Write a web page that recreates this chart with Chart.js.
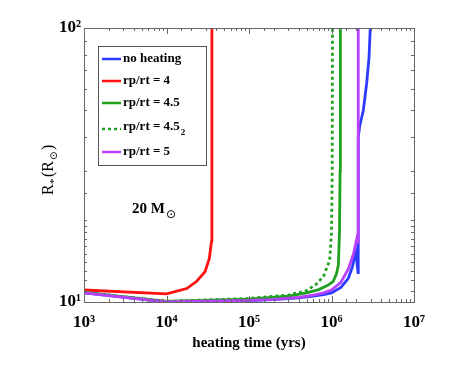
<!DOCTYPE html>
<html>
<head>
<meta charset="utf-8">
<script src="https://cdn.jsdelivr.net/npm/chart.js@4"></script>
<style>
  html, body { margin: 0; padding: 0; background: #fff; }
  #wrap { width: 457px; height: 374px; }
</style>
</head>
<body>
<div id="wrap"><canvas id="radius-chart" width="457" height="374"></canvas></div>
<script>
// heating time (yrs) and stellar radius (Rsun) for each run
var noHeatT = [1e3, 1e4, 3e4, 1e5, 2e5, 4e5, 6e5, 8e5, 1e6, 1.3e6, 1.6e6, 1.8e6, 1.96e6, 2.1e6, 2.11e6, 2.2e6, 2.43e6, 2.67e6, 2.85e6, 2.95e6, 3.0e6];
var noHeatR = [10.8, 10.0, 10.05, 10.12, 10.2, 10.35, 10.5, 10.65, 10.8, 11.3, 12.2, 13.5, 15.3, 12.8, 40, 44, 50, 63, 78, 100, 120];

var rp4T = [1e3, 1e4, 1.76e4, 2.32e4, 2.93e4, 3.3e4, 3.53e4, 3.55e4];
var rp4R = [11.06, 10.7, 11.2, 11.9, 12.9, 14.4, 16.8, 130];

var rp45T = [1e3, 1e4, 1e5, 3e5, 5e5, 7e5, 9e5, 1.05e6, 1.15e6, 1.21e6, 1.25e6, 1.27e6, 1.28e6];
var rp45R = [10.85, 10.06, 10.25, 10.5, 10.8, 11.1, 11.5, 11.9, 12.7, 13.6, 17.9, 30, 130];

var rp45bT = [1e3, 1e4, 1e5, 3e5, 5e5, 6.5e5, 8e5, 9.5e5, 1.0e6, 1.02e6, 1.03e6];
var rp45bR = [10.85, 10.06, 10.3, 10.6, 11.0, 11.6, 12.4, 14.2, 17.9, 30, 130];

var rp5T = [1e3, 1e4, 1e5, 2e5, 4e5, 6e5, 8e5, 1e6, 1.3e6, 1.6e6, 1.85e6, 2.05e6, 2.1e6, 2.11e6];
var rp5R = [10.8, 10.0, 10.13, 10.22, 10.4, 10.6, 10.8, 11.05, 11.8, 13.2, 15.0, 17.3, 16.5, 130];

var seriesLabels = ['no heating', 'rp/rt = 4', 'rp/rt = 4.5', 'rp/rt = 4.5', 'rp/rt = 5'];
var seriesColors = ['#2b3bff', '#ff1010', '#20a020', '#20a020', '#b840ff'];

var xTickExp = [3, 4, 5, 6, 7];
var yTickExp = [1, 2];

function pts(t, r) {
    return t.map(function (v, i) { return { x: v, y: r[i] }; });
}

var sup = { 1: '\u00b9', 2: '\u00b2', 3: '\u00b3', 4: '\u2074', 5: '\u2075', 6: '\u2076', 7: '\u2077' };
function powLabel(exps) {
    return function (value) {
        var e = Math.log10(value);
        var r = Math.round(e);
        if (Math.abs(e - r) < 1e-6 && exps.indexOf(r) >= 0) return '10' + sup[r];
        return '';
    };
}

var serif = 'Liberation Serif';

// frame, inward ticks, legend and labels in matlab style
var framePlugin = {
    id: 'frame',
    afterDraw: function (chart) {
        var ctx = chart.ctx;
        var a = chart.chartArea;
        ctx.save();
        ctx.strokeStyle = '#666';
        ctx.lineWidth = 1;
        ctx.strokeRect(a.left + 0.5, a.top + 0.5, a.right - a.left, a.bottom - a.top);

        function isMajor(v) {
            var e = Math.log10(v);
            return Math.abs(e - Math.round(e)) < 1e-6;
        }
        ctx.beginPath();
        chart.scales.x.ticks.forEach(function (t) {
            var px = Math.round(chart.scales.x.getPixelForValue(t.value)) + 0.5;
            var len = isMajor(t.value) ? 6 : 3;
            ctx.moveTo(px, a.bottom); ctx.lineTo(px, a.bottom - len);
            ctx.moveTo(px, a.top); ctx.lineTo(px, a.top + len);
        });
        chart.scales.y.ticks.forEach(function (t) {
            var py = Math.round(chart.scales.y.getPixelForValue(t.value)) + 0.5;
            var len = isMajor(t.value) ? 6 : 3;
            ctx.moveTo(a.left, py); ctx.lineTo(a.left + len, py);
            ctx.moveTo(a.right, py); ctx.lineTo(a.right - len, py);
        });
        ctx.stroke();

        // legend box
        var lx = 98, ly = 46, lw = 108, lh = 119;
        ctx.fillStyle = '#fff';
        ctx.fillRect(lx, ly, lw, lh);
        ctx.strokeStyle = '#555';
        ctx.strokeRect(lx + 0.5, ly + 0.5, lw, lh);
        var rows = [59, 81, 103, 127, 152];
        ctx.font = 'bold 13px "' + serif + '"';
        ctx.textBaseline = 'middle';
        chart.data.datasets.forEach(function (ds, i) {
            var y = rows[i];
            ctx.beginPath();
            ctx.strokeStyle = ds.borderColor;
            ctx.lineWidth = 2.5;
            ctx.setLineDash(ds.borderDash || []);
            ctx.moveTo(102, i === 3 ? y + 2 : y);
            ctx.lineTo(121, i === 3 ? y + 2 : y);
            ctx.stroke();
            ctx.setLineDash([]);
            ctx.fillStyle = '#000';
            ctx.fillText(ds.label, 123, y);
            if (i === 3) {
                var w = ctx.measureText(ds.label).width;
                ctx.font = 'bold 9px "' + serif + '"';
                ctx.fillText('2', 123 + w + 1, y + 6);
                ctx.font = 'bold 13px "' + serif + '"';
            }
        });

        // mass annotation
        ctx.fillStyle = '#000';
        ctx.font = 'bold 15px "' + serif + '"';
        ctx.textBaseline = 'alphabetic';
        ctx.fillText('20 M', 132, 213);
        var mw = ctx.measureText('20 M').width;
        ctx.font = '12px "DejaVu Sans"';
        ctx.fillText('\u2299', 132 + mw + 1, 218);

        // y axis title
        ctx.translate(53, 165);
        ctx.rotate(-Math.PI / 2);
        ctx.font = '16px "' + serif + '"';
        ctx.textBaseline = 'alphabetic';
        ctx.fillText('R', -30, 0);
        ctx.font = '11px "' + serif + '"';
        ctx.fillText('*', -19, 4);
        ctx.font = '16px "' + serif + '"';
        ctx.fillText('(R', -12, 0);
        ctx.font = '10px "DejaVu Sans"';
        ctx.fillText('\u2299', 5, 4);
        ctx.font = '16px "' + serif + '"';
        ctx.fillText(')', 15, 0);
        ctx.restore();
    }
};

var chartCtx = document.getElementById('radius-chart').getContext('2d');
var radiusChart = new Chart(chartCtx, {
    type: 'scatter',
    data: {
        datasets: [
            { label: seriesLabels[0], data: pts(noHeatT, noHeatR), borderColor: seriesColors[0], order: 4 },
            { label: seriesLabels[1], data: pts(rp4T, rp4R), borderColor: seriesColors[1], order: 3 },
            { label: seriesLabels[2], data: pts(rp45T, rp45R), borderColor: seriesColors[2], order: 2 },
            { label: seriesLabels[3], data: pts(rp45bT, rp45bR), borderColor: seriesColors[3], borderDash: [3, 3], order: 1 },
            { label: seriesLabels[4], data: pts(rp5T, rp5R), borderColor: seriesColors[4], order: 0 }
        ].map(function (d) {
            d.showLine = true;
            d.pointRadius = 0;
            d.borderWidth = 2.8;
            d.fill = false;
            d.backgroundColor = d.borderColor;
            return d;
        })
    },
    options: {
        responsive: false,
        animation: false,
        layout: { padding: { top: 28, right: 43, bottom: 22, left: 0 } },
        plugins: {
            legend: { display: false },
            tooltip: { enabled: false }
        },
        scales: {
            x: {
                type: 'logarithmic',
                min: 1e3,
                max: 1e7,
                afterFit: function (s) { s.height = 50; },
                grid: { display: false },
                border: { display: false },
                ticks: {
                    autoSkip: false,
                    maxRotation: 0,
                    padding: 2,
                    color: '#000',
                    font: { family: serif, size: 17, weight: 'bold' },
                    callback: powLabel(xTickExp)
                },
                title: {
                    display: true,
                    text: 'heating time (yrs)',
                    color: '#000',
                    font: { family: serif, size: 15, weight: 'bold' },
                    padding: { top: 0, bottom: 0 }
                }
            },
            y: {
                type: 'logarithmic',
                min: 10,
                max: 100,
                afterFit: function (s) { s.width = 84; },
                grid: { display: false },
                border: { display: false },
                ticks: {
                    autoSkip: false,
                    padding: -5,
                    color: '#000',
                    font: { family: serif, size: 17, weight: 'bold' },
                    callback: powLabel(yTickExp)
                }
            }
        }
    },
    plugins: [framePlugin]
});
</script>
</body>
</html>
